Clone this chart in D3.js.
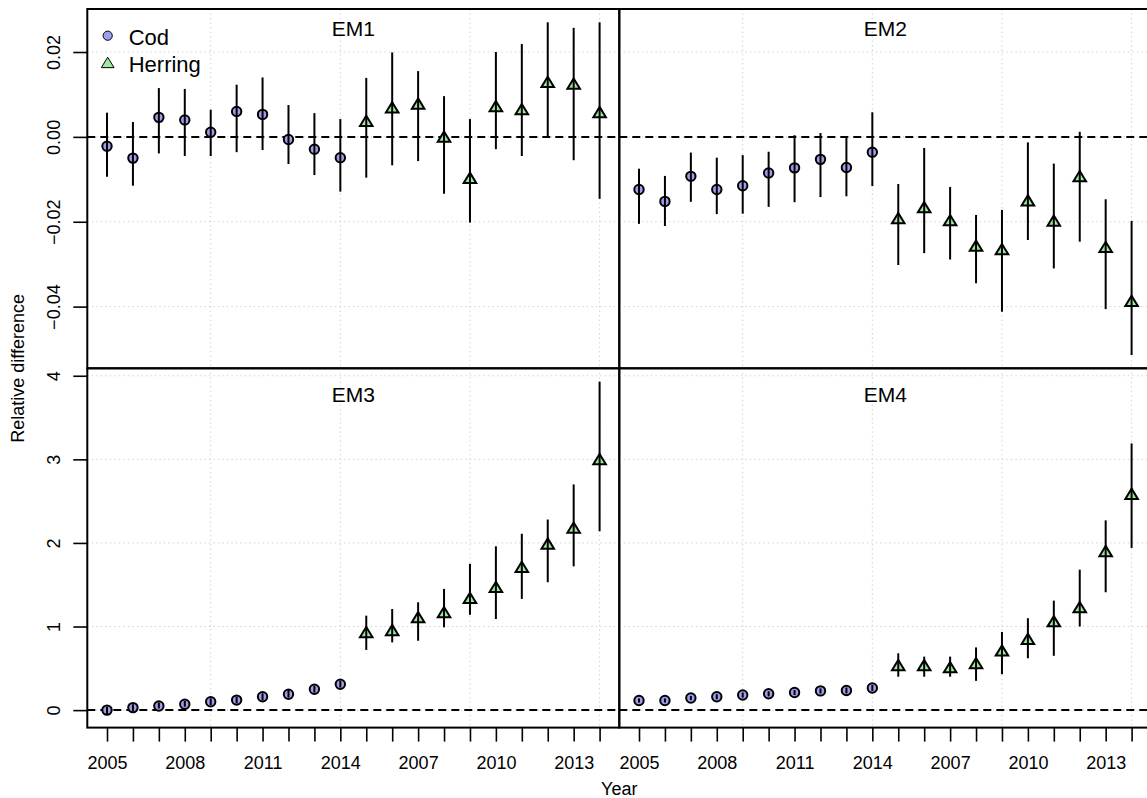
<!DOCTYPE html>
<html>
<head>
<meta charset="utf-8">
<script src="https://cdn.jsdelivr.net/npm/d3@7"></script>
<style>
body { margin: 0; background: #fff; }
text { font-family: "Liberation Sans", Arial, Helvetica, sans-serif; fill: #000; }
</style>
</head>
<body>
<svg id="chart" width="1147" height="798"></svg>
<script>
// ---------------- data ----------------
const years = [2005, 2006, 2007, 2008, 2009, 2010, 2011, 2012, 2013, 2014];
const species = ["Cod", "Herring"];
const panelNames = ["EM1", "EM2", "EM3", "EM4"];

// each panel: 10 cod values (2005-2014) followed by 10 herring values (2005-2014)
const em1Est = [-0.0022, -0.0050, 0.0046, 0.0040, 0.0011, 0.0060, 0.0053, -0.0006, -0.0029, -0.0049,
                 0.0037, 0.0069, 0.0078, 0.0000, -0.0097, 0.0072, 0.0065, 0.0129, 0.0125, 0.0058];
const em1Lo  = [-0.0094, -0.0115, -0.0039, -0.0045, -0.0045, -0.0036, -0.0031, -0.0064, -0.0090, -0.0129,
                -0.0096, -0.0067, -0.0057, -0.0134, -0.0202, -0.0029, -0.0045, 0.0000, -0.0055, -0.0146];
const em1Hi  = [0.0057, 0.0035, 0.0115, 0.0113, 0.0064, 0.0123, 0.0140, 0.0075, 0.0056, 0.0042,
                0.0139, 0.0199, 0.0155, 0.0096, 0.0042, 0.0200, 0.0219, 0.0270, 0.0257, 0.0270];

const em2Est = [-0.0124, -0.0152, -0.0093, -0.0124, -0.0115, -0.0085, -0.0073, -0.0053, -0.0072, -0.0036,
                -0.0192, -0.0166, -0.0197, -0.0257, -0.0265, -0.0150, -0.0198, -0.0093, -0.0260, -0.0387];
const em2Lo  = [-0.0205, -0.0210, -0.0153, -0.0182, -0.0181, -0.0165, -0.0154, -0.0142, -0.0140, -0.0116,
                -0.0302, -0.0274, -0.0289, -0.0345, -0.0412, -0.0243, -0.0310, -0.0247, -0.0406, -0.0514];
const em2Hi  = [-0.0075, -0.0092, -0.0037, -0.0049, -0.0043, -0.0035, 0.0004, 0.0009, -0.0002, 0.0058,
                -0.0111, -0.0026, -0.0118, -0.0184, -0.0172, -0.0013, -0.0063, 0.0012, -0.0147, -0.0198];

const em3Est = [0.00, 0.03, 0.05, 0.07, 0.10, 0.12, 0.16, 0.19, 0.25, 0.31,
                0.93, 0.955, 1.11, 1.17, 1.34, 1.47, 1.71, 1.99, 2.18, 3.00];
const em3Lo  = [-0.05, -0.01, 0.02, 0.04, 0.06, 0.08, 0.12, 0.15, 0.21, 0.27,
                0.72, 0.81, 0.83, 0.99, 1.14, 1.09, 1.33, 1.53, 1.72, 2.14];
const em3Hi  = [0.04, 0.07, 0.09, 0.11, 0.14, 0.16, 0.20, 0.24, 0.29, 0.35,
                1.13, 1.21, 1.29, 1.45, 1.75, 1.96, 2.11, 2.28, 2.70, 3.93];

const em4Est = [0.115, 0.115, 0.145, 0.16, 0.18, 0.195, 0.21, 0.23, 0.235, 0.265,
                0.535, 0.535, 0.51, 0.56, 0.71, 0.85, 1.06, 1.23, 1.90, 2.585];
const em4Lo  = [0.09, 0.09, 0.12, 0.13, 0.15, 0.165, 0.18, 0.20, 0.20, 0.23,
                0.40, 0.40, 0.40, 0.35, 0.43, 0.62, 0.65, 1.00, 1.41, 1.94];
const em4Hi  = [0.14, 0.14, 0.17, 0.19, 0.21, 0.225, 0.24, 0.26, 0.27, 0.30,
                0.68, 0.64, 0.64, 0.75, 0.935, 1.10, 1.31, 1.68, 2.27, 3.19];

const topTicks = [-0.04, -0.02, 0.00, 0.02];
const bottomTicks = [0, 1, 2, 3, 4];
const xLabels = years.concat(years).map(String);   // 20 tick labels
const xLabelStep = 3;                                // every third label shown
const gridX = [5, 10, 15, 20];

// ---------------- layout ----------------
const svg = d3.select("#chart");
const leftM = 87.3, topM = 9, W = 532, H = 359.3;
const colors = { Cod: "#9e9eec", Herring: "#9fe89f" };

const n = years.length * species.length;
const idx = d3.range(1, n + 1);
const expand = (lo, hi) => { const r = hi - lo; return [lo - 0.04 * r, hi + 0.04 * r]; };

const x = d3.scaleLinear().domain(expand(1, n)).range([0, W]);

const panelData = [
  { name: panelNames[0], est: em1Est, lo: em1Lo, hi: em1Hi },
  { name: panelNames[1], est: em2Est, lo: em2Lo, hi: em2Hi },
  { name: panelNames[2], est: em3Est, lo: em3Lo, hi: em3Hi },
  { name: panelNames[3], est: em4Est, lo: em4Lo, hi: em4Hi }
];

const rowDomain = row => {
  const ps = panelData.slice(row * 2, row * 2 + 2);
  const lo = d3.min(ps, p => d3.min(p.lo));
  const hi = d3.max(ps, p => d3.max(p.hi));
  return expand(lo, hi);
};
const yScales = [0, 1].map(r => d3.scaleLinear().domain(rowDomain(r)).range([H, 0]));
const rowTicks = [topTicks, bottomTicks];
const rowFmt = [d => d3.format(".2f")(d).replace("-", "\u2212"), d => d3.format("d")(d)];
const titleOffset = [26.7, 33.4];

const triPath = (s) => `M0,${-s * 0.5}L${s * 0.58},${s * 0.45}L${-s * 0.58},${s * 0.45}Z`;

panelData.forEach((p, i) => {
  const row = Math.floor(i / 2), col = i % 2;
  const y = yScales[row];
  const g = svg.append("g").attr("transform", `translate(${leftM + col * W},${topM + row * H})`);

  // grid
  g.selectAll(".gx").data(gridX).join("line")
    .attr("x1", d => x(d)).attr("x2", d => x(d)).attr("y1", 0).attr("y2", H)
    .attr("stroke", "#d3d3d3").attr("stroke-width", 1).attr("stroke-dasharray", "1.5,3");
  g.selectAll(".gy").data(rowTicks[row]).join("line")
    .attr("x1", 0).attr("x2", W).attr("y1", d => y(d)).attr("y2", d => y(d))
    .attr("stroke", "#d3d3d3").attr("stroke-width", 1).attr("stroke-dasharray", "1.5,3");

  // zero line
  g.append("line").attr("x1", 0).attr("x2", W).attr("y1", y(0)).attr("y2", y(0))
    .attr("stroke", "#000").attr("stroke-width", 2).attr("stroke-dasharray", "8,5");

  const pts = idx.map((k, j) => ({ k, est: p.est[j], lo: p.lo[j], hi: p.hi[j], sp: species[j < years.length ? 0 : 1] }));

  // points
  g.selectAll(".cod").data(pts.filter(d => d.sp === "Cod")).join("circle")
    .attr("cx", d => x(d.k)).attr("cy", d => y(d.est)).attr("r", 4.7)
    .attr("fill", colors.Cod).attr("stroke", "#000").attr("stroke-width", 2);
  g.selectAll(".her").data(pts.filter(d => d.sp === "Herring")).join("path")
    .attr("d", triPath(10.8)).attr("transform", d => `translate(${x(d.k)},${y(d.est)})`)
    .attr("fill", colors.Herring).attr("stroke", "#000").attr("stroke-width", 2)
    .attr("stroke-linejoin", "miter");

  // error bars
  g.selectAll(".ci").data(pts).join("line")
    .attr("x1", d => x(d.k)).attr("x2", d => x(d.k))
    .attr("y1", d => y(d.lo)).attr("y2", d => y(d.hi))
    .attr("stroke", "#000").attr("stroke-width", 2);

  // box
  g.append("rect").attr("x", 0).attr("y", 0).attr("width", W).attr("height", H)
    .attr("fill", "none").attr("stroke", "#000").attr("stroke-width", 2);

  // title
  g.append("text").attr("x", W / 2).attr("y", titleOffset[row]).attr("text-anchor", "middle")
    .attr("font-size", 21).text(p.name);

  // y axis on left column
  if (col === 0) {
    const ax = g.append("g").call(d3.axisLeft(y).tickValues(rowTicks[row]).tickFormat(rowFmt[row]).tickSize(14).tickSizeOuter(0));
    ax.select(".domain").remove();
    ax.selectAll(".tick line").attr("stroke", "#000").attr("stroke-width", 1.6);
    ax.selectAll(".tick text").attr("font-size", 18).attr("font-family", "Liberation Sans, Arial, sans-serif")
      .attr("transform", "rotate(-90)").attr("x", 0).attr("y", -27.5).attr("dy", 0)
      .attr("text-anchor", "middle").attr("fill", "#000");
  }
  // x axis on bottom row
  if (row === 1) {
    const ax = g.append("g").attr("transform", `translate(0,${H})`)
      .call(d3.axisBottom(x).tickValues(idx).tickFormat((d, j) => j % xLabelStep === 0 ? xLabels[j] : "").tickSize(14).tickSizeOuter(0));
    ax.select(".domain").remove();
    ax.selectAll(".tick line").attr("stroke", "#000").attr("stroke-width", 1.6);
    ax.selectAll(".tick text").attr("font-size", 18).attr("font-family", "Liberation Sans, Arial, sans-serif")
      .attr("y", 41).attr("dy", 0).attr("fill", "#000");
  }

  // legend in first panel
  if (i === 0) {
    const lg = g.append("g");
    species.forEach((s, j) => {
      const cy = 26.7 + j * 27;
      if (s === "Cod") {
        lg.append("circle").attr("cx", 20.4).attr("cy", cy).attr("r", 4.6)
          .attr("fill", colors.Cod).attr("stroke", "#000").attr("stroke-width", 1);
      } else {
        lg.append("path").attr("d", triPath(11)).attr("transform", `translate(20.4,${cy})`)
          .attr("fill", colors.Herring).attr("stroke", "#000").attr("stroke-width", 1);
      }
      lg.append("text").attr("x", 41.4).attr("y", cy + 9.3).attr("font-size", 22).text(s);
    });
  }
});

// axis titles
svg.append("text").attr("x", leftM + W).attr("y", 794.5).attr("text-anchor", "middle")
  .attr("font-size", 18).text("Year");
svg.append("text").attr("transform", `translate(23.5,${topM + H})rotate(-90)`)
  .attr("text-anchor", "middle").attr("font-size", 18).text("Relative difference");
</script>
</body>
</html>
